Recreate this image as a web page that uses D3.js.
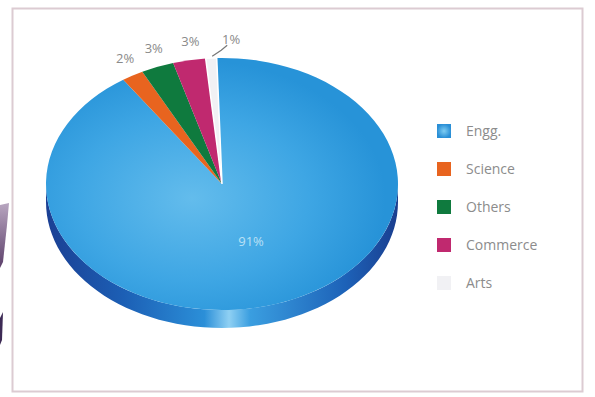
<!DOCTYPE html>
<html>
<head>
<meta charset="utf-8">
<script src="https://cdn.jsdelivr.net/npm/d3@7"></script>
<style>
  html, body { margin: 0; padding: 0; background: #fff; }
  svg { display: block; }
</style>
</head>
<body>
<div id="chart"></div>
<script>
// Data
const categories = ['Engg.', 'Science', 'Others', 'Commerce', 'Arts'];
const shares = [91, 2, 3, 3, 1];
const labels = ['91%', '2%', '3%', '3%', '1%'];
const topColors = ['#3aa3e2', '#e8641f', '#0f7a3e', '#c0296f', '#f1f1f4'];
const sideColors = ['#1f6fc2', '#b44812', '#0a5a2c', '#8e1b50', '#d0d0d6'];

const W = 595, H = 397;
const svg = d3.select('#chart').append('svg')
    .attr('width', W)
    .attr('height', H);

const defs = svg.append('defs');

// Frame
svg.append('rect')
    .attr('x', 12.5).attr('y', 8.5)
    .attr('width', 570).attr('height', 383)
    .attr('fill', '#fff')
    .attr('stroke', '#dccbd2')
    .attr('stroke-width', 2);

// photo artifact on the left edge
const edgeGrad = defs.append('linearGradient').attr('id', 'edgeGrad')
    .attr('x1', 0).attr('y1', 0).attr('x2', 0).attr('y2', 1);
edgeGrad.append('stop').attr('offset', '0%').attr('stop-color', '#b8a6c0');
edgeGrad.append('stop').attr('offset', '100%').attr('stop-color', '#5c3f6a');
svg.append('path')
    .attr('d', 'M0,205 L9,203 L7,225 L3,262 L0,268 Z')
    .attr('fill', 'url(#edgeGrad)');
svg.append('path')
    .attr('d', 'M0,318 L3,312 L2,340 L0,345 Z')
    .attr('fill', '#3d2a55');

// Pie geometry
const cx = 222, cy = 184, rx = 176, ry = 126, depth = 18;
const k = ry / rx;

const pie = d3.pie().sort(null).value(d => d)
    .startAngle(-0.03).endAngle(-0.03 + 2 * Math.PI);
const arcs = pie(shares);

// Gradients
const sideGrad = defs.append('linearGradient').attr('id', 'sideGrad')
    .attr('gradientUnits', 'userSpaceOnUse')
    .attr('x1', cx - rx).attr('y1', 0).attr('x2', cx + rx).attr('y2', 0);
[['0%', '#1b3f93'], ['22%', '#1c5fb5'], ['45%', '#2b8fd8'], ['52%', '#8fd0f3'],
 ['58%', '#3a9ee0'], ['85%', '#1d62b8'], ['100%', '#1a3e8f']].forEach(s =>
    sideGrad.append('stop').attr('offset', s[0]).attr('stop-color', s[1]));

const topGrad = defs.append('radialGradient').attr('id', 'topGrad')
    .attr('gradientUnits', 'userSpaceOnUse')
    .attr('cx', -30).attr('cy', 20).attr('r', rx * 1.1);
[['0%', '#63bcec'], ['60%', '#3ea6e4'], ['100%', '#2793d8']].forEach(s =>
    topGrad.append('stop').attr('offset', s[0]).attr('stop-color', s[1]));

const legendGrad = defs.append('radialGradient').attr('id', 'legendGrad');
legendGrad.append('stop').attr('offset', '0%').attr('stop-color', '#7fcdf2');
legendGrad.append('stop').attr('offset', '100%').attr('stop-color', '#2a8fd6');

// Side wall, front half only (angles between PI/2 and 3PI/2)
function sidePath(a0, a1) {
    const lo = Math.max(a0, Math.PI / 2), hi = Math.min(a1, 3 * Math.PI / 2);
    if (hi <= lo) return null;
    const n = 60, pts = [];
    for (let i = 0; i <= n; i++) {
        const a = lo + (hi - lo) * i / n;
        pts.push([cx + rx * Math.sin(a), cy - ry * Math.cos(a)]);
    }
    for (let i = n; i >= 0; i--) {
        const a = lo + (hi - lo) * i / n;
        pts.push([cx + rx * Math.sin(a), cy - ry * Math.cos(a) + depth]);
    }
    return d3.line()(pts) + 'Z';
}

const sideG = svg.append('g').attr('class', 'side');
arcs.forEach((d, i) => {
    const p = sidePath(d.startAngle, d.endAngle);
    if (p) sideG.append('path')
        .attr('d', p)
        .attr('fill', i === 0 ? 'url(#sideGrad)' : sideColors[i]);
});

// Top faces
const arcGen = d3.arc().innerRadius(0).outerRadius(rx);
const topG = svg.append('g')
    .attr('transform', `translate(${cx},${cy}) scale(1,${k})`);
topG.selectAll('path')
    .data(arcs)
    .enter()
    .append('path')
    .attr('d', arcGen)
    .attr('fill', (d, i) => i === 0 ? 'url(#topGrad)' : topColors[i])
    .attr('stroke', (d, i) => i === 4 ? '#ffffff' : 'none')
    .attr('stroke-width', 1.5);

// Labels
const labelG = svg.append('g')
    .style('font-family', '"Open Sans", sans-serif')
    .style('font-size', '13px');

arcs.forEach((d, i) => {
    const mid = (d.startAngle + d.endAngle) / 2;
    if (i === 0) {
        labelG.append('text')
            .attr('x', cx + rx * 0.5 * Math.sin(mid) + 2)
            .attr('y', cy - ry * 0.5 * Math.cos(mid) + 2)
            .attr('text-anchor', 'middle')
            .attr('fill', '#d6eefa')
            .attr('opacity', 0.8)
            .text(labels[i]);
        return;
    }
    const ex = cx + rx * Math.sin(mid), ey = cy - ry * Math.cos(mid);
    if (i === categories.length - 1) {
        // leader line for the thin slice
        labelG.append('path')
            .attr('d', d3.line()([[ex + 1, ey - 2], [ex + 10, ey - 8], [ex + 16, ey - 13]]))
            .attr('fill', 'none')
            .attr('stroke', '#777')
            .attr('stroke-width', 1.2);
        labelG.append('text')
            .attr('x', ex + 20)
            .attr('y', ey - 14)
            .attr('text-anchor', 'middle')
            .attr('fill', '#8a8a8a')
            .text(labels[i]);
        return;
    }
    labelG.append('text')
        .attr('x', cx + rx * 1.15 * Math.sin(mid) + 6)
        .attr('y', cy - ry * 1.15 * Math.cos(mid) + 4)
        .attr('text-anchor', 'middle')
        .attr('fill', '#8a8a8a')
        .text(labels[i]);
});

// Legend
const legendY = d3.scalePoint().domain(categories).range([131, 283]);
const legend = svg.append('g')
    .style('font-family', '"Open Sans", sans-serif')
    .style('font-size', '14px');
categories.forEach((c, i) => {
    const g = legend.append('g').attr('transform', `translate(437,${legendY(c)})`);
    g.append('rect')
        .attr('x', 0).attr('y', -7)
        .attr('width', 14).attr('height', 14)
        .attr('fill', i === 0 ? 'url(#legendGrad)' : topColors[i]);
    g.append('text')
        .attr('x', 29).attr('y', 5)
        .attr('fill', '#8c8c8c')
        .text(c);
});
</script>
</body>
</html>
